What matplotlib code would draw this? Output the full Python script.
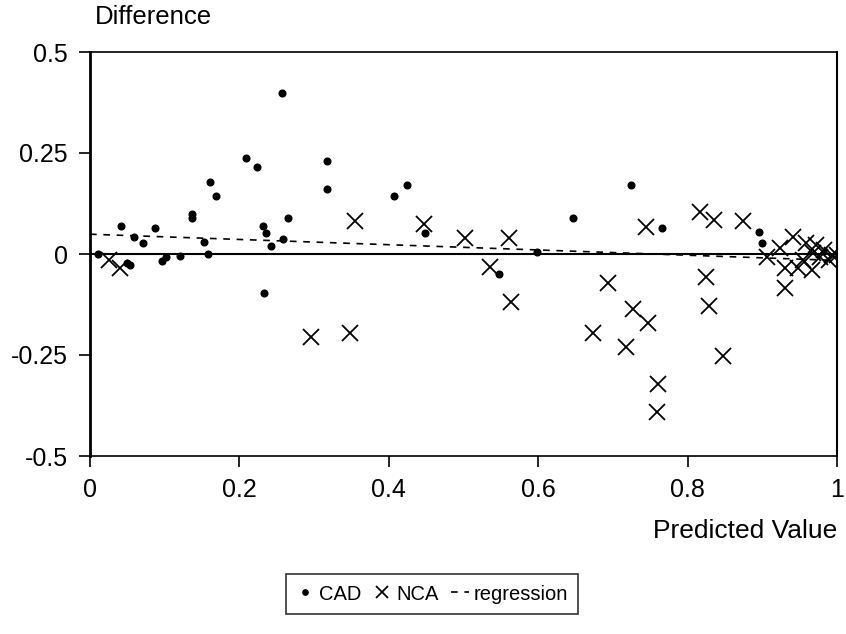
import matplotlib
matplotlib.use("Agg")
import matplotlib.pyplot as plt

plt.rcParams['font.family'] = ['Liberation Sans', 'DejaVu Sans']

# CAD points (predicted value, difference)
cad_x = [0.011, 0.041, 0.049, 0.054, 0.059, 0.071, 0.087, 0.096, 0.102, 0.120,
         0.137, 0.137, 0.152, 0.158, 0.161, 0.169, 0.209, 0.224, 0.232, 0.233,
         0.236, 0.242, 0.257, 0.259, 0.265, 0.317, 0.317, 0.407, 0.425, 0.449,
         0.548, 0.598, 0.646, 0.724, 0.766, 0.896, 0.900]
cad_y = [0.000, 0.069, -0.023, -0.028, 0.043, 0.026, 0.064, -0.017, -0.007, -0.005,
         0.100, 0.088, 0.030, 0.000, 0.178, 0.144, 0.238, 0.215, 0.069, -0.097,
         0.051, 0.020, 0.399, 0.036, 0.088, 0.231, 0.162, 0.144, 0.170, 0.051,
         -0.050, 0.006, 0.088, 0.171, 0.064, 0.054, 0.026]

# NCA points
nca_x = [0.025, 0.040, 0.296, 0.348, 0.355, 0.447, 0.502, 0.535, 0.561, 0.563,
         0.674, 0.693, 0.718, 0.727, 0.744, 0.747, 0.759, 0.760, 0.817, 0.824,
         0.829, 0.835, 0.847, 0.874, 0.906, 0.924, 0.930, 0.930, 0.941, 0.948,
         0.955, 0.959, 0.966, 0.968, 0.972, 0.977, 0.982, 0.989, 0.993, 1.000]
nca_y = [-0.015, -0.035, -0.205, -0.196, 0.082, 0.074, 0.039, -0.031, 0.040, -0.118,
         -0.196, -0.073, -0.229, -0.137, 0.068, -0.172, -0.390, -0.322, 0.105, -0.058,
         -0.129, 0.084, -0.252, 0.082, -0.007, 0.014, -0.035, -0.085, 0.043, -0.035,
         -0.015, 0.026, -0.040, 0.002, 0.022, -0.007, 0.010, -0.015, -0.002, -0.002]

# regression line endpoints
reg_x = [0.0, 1.0]
reg_y = [0.049, -0.016]

x_ticks = [0, 0.2, 0.4, 0.6, 0.8, 1]
x_labels = ["0", "0.2", "0.4", "0.6", "0.8", "1"]
y_ticks = [-0.5, -0.25, 0, 0.25, 0.5]
y_labels = ["-0.5", "-0.25", "0", "0.25", "0.5"]

fig = plt.figure(figsize=(8.46, 6.34), dpi=100)
ax = fig.add_axes([90/846, 1-456/634, (837-90)/846, (456-52)/634])

ax.axhline(0, color='black', lw=1.5, zorder=1)
ax.plot(cad_x, cad_y, linestyle='none', marker='o', ms=4.8, color='black',
        label='CAD', zorder=3)
ax.plot(nca_x, nca_y, linestyle='none', marker='x', ms=11.5, mew=1.3, color='black',
        label='NCA', zorder=3)
ax.plot(reg_x, reg_y, linestyle=(0, (4, 4)), lw=1.2, color='black',
        label='regression', zorder=2)

ax.set_xlim(0, 1)
ax.set_ylim(-0.5, 0.5)
ax.set_xticks(x_ticks)
ax.set_xticklabels(x_labels)
ax.set_yticks(y_ticks)
ax.set_yticklabels(y_labels)
ax.tick_params(direction='out', length=8, width=1.2, labelsize=18)
ax.tick_params(axis='y', pad=8)
ax.tick_params(axis='x', pad=8)
for s in ax.spines.values():
    s.set_linewidth(1.2)
ax.spines['left'].set_linewidth(2)
ax.spines['right'].set_linewidth(1.5)

fig.text(95/846, 1-17/634, "Difference", fontsize=18.5, ha='left', va='center')
fig.text(837/846, 1-531/634, "Predicted Value", fontsize=19, ha='right', va='center')

leg = fig.legend(loc='center', bbox_to_anchor=(432/846, 1-594/634), ncol=3,
                 frameon=True, fancybox=False, edgecolor='black', fontsize=14.5,
                 handlelength=0.9, handletextpad=0.25, columnspacing=0.6,
                 borderpad=0.5, markerscale=0.8)
leg.get_frame().set_linewidth(1.2)

fig.savefig("out.png", dpi=100)
